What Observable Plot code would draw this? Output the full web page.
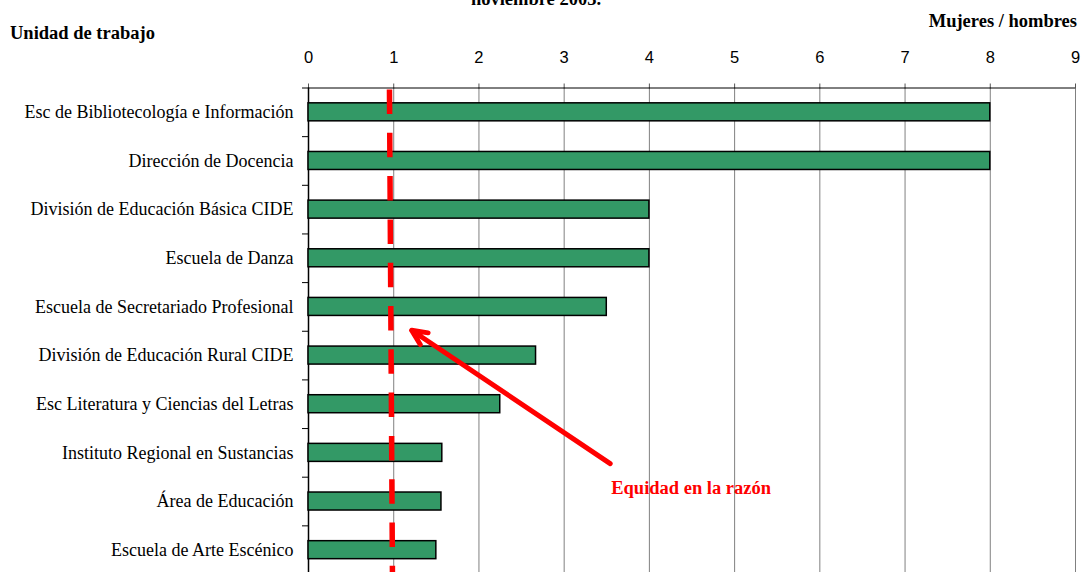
<!DOCTYPE html>
<html>
<head>
<meta charset="utf-8">
<script src="https://cdn.jsdelivr.net/npm/d3@7"></script>
<script src="https://cdn.jsdelivr.net/npm/@observablehq/plot@0.6"></script>
<style>
  html, body { margin: 0; padding: 0; background: #fff; overflow: hidden; }
  #wrap { position: relative; width: 1081px; height: 572px; overflow: hidden; }
  .t { position: absolute; font-family: "Liberation Serif", "Times New Roman", serif; font-weight: bold;
       font-size: 18.5px; line-height: 1; color: #000; white-space: nowrap; }
</style>
</head>
<body>
<div id="wrap">
  <div id="chart"></div>
  <div class="t" style="left:0; width:1072px; text-align:center; top:-10.5px;">noviembre 2003.</div>
  <div class="t" style="left:10px; top:23.5px;">Unidad de trabajo</div>
  <div class="t" style="right:4px; top:11.5px;">Mujeres / hombres</div>
</div>
<script>
// Work units, top to bottom
const units = [
  "Esc de Bibliotecología e Información",
  "Dirección de Docencia",
  "División de Educación Básica CIDE",
  "Escuela de Danza",
  "Escuela de Secretariado Profesional",
  "División de Educación Rural CIDE",
  "Esc Literatura y Ciencias del Letras",
  "Instituto Regional en Sustancias",
  "Área de Educación",
  "Escuela de Arte Escénico"
];
// Ratio women / men for each unit
const ratios = [8, 8, 4, 4, 3.5, 2.67, 2.25, 1.57, 1.56, 1.5];
// Ticks of the ratio axis
const xTicks = [0, 1, 2, 3, 4, 5, 6, 7, 8, 9];

// Parity reference line (ratio ≈ 1) and its callout
const parityLine = {x1: 0.95, x2: 0.985};
const calloutArrow = {x1: 3.54, y1: 7.22, x2: 1.21, y2: 4.48};
const calloutText = {x: 4.49, y: 7.72, label: "Equidad en la razón"};

const rows = units.map((u, i) => ({unit: u, i, ratio: ratios[i]}));
const rowIdx = units.map((_, i) => i);
const boundaries = d3.range(-0.5, units.length, 1);
const half = 0.185;

const chart = Plot.plot({
  width: 1081,
  height: 574,
  marginLeft: 308,
  marginRight: 6,
  marginTop: 87.5,
  marginBottom: 0,
  style: {fontFamily: "'Liberation Serif', 'Times New Roman', serif", fontSize: "18px", color: "#000", background: "#fff"},
  x: {domain: [0, 9]},
  y: {domain: [-0.5, units.length - 0.5], reverse: true},
  marks: [
    Plot.gridX(xTicks.filter(d => d > 0), {stroke: "#808080", strokeOpacity: 1, strokeWidth: 1}),
    Plot.axisX({anchor: "top", ticks: xTicks, tickSize: 5, tickPadding: 20, stroke: "#555",
                fontFamily: "'Liberation Sans', Arial, sans-serif", fontSize: 16.5, label: null}),
    Plot.ruleY([-0.5], {stroke: "#000", strokeWidth: 1}),
    Plot.ruleX([0], {stroke: "#000", strokeWidth: 1.5}),
    Plot.axisY({ticks: boundaries, tickSize: 6, fill: "none", stroke: "#000", label: null}),
    Plot.axisY({ticks: rowIdx, tickSize: 0, tickPadding: 15, tickFormat: i => units[i],
                fontSize: 18, label: null}),
    Plot.rect(rows, {
      x1: 0, x2: "ratio",
      y1: d => d.i - half, y2: d => d.i + half,
      fill: "#339966", stroke: "#000", strokeWidth: 1.5
    }),
    Plot.link([parityLine], {
      x1: "x1", x2: "x2", y1: () => -0.5, y2: () => units.length - 0.5,
      stroke: "#ff0000", strokeWidth: 5.5, strokeDasharray: "24.5,18.8", strokeDashoffset: 41.8
    }),
    Plot.arrow([calloutArrow], {
      x1: "x1", y1: "y1", x2: "x2", y2: "y2",
      stroke: "#ff0000", strokeWidth: 5, headLength: 5, headAngle: 50, bend: 0
    }),
    Plot.text([calloutText], {
      x: "x", y: "y", text: "label", fill: "#ff0000", fontWeight: "bold", fontSize: 18.5
    })
  ]
});
document.getElementById("chart").appendChild(chart);
</script>
</body>
</html>
